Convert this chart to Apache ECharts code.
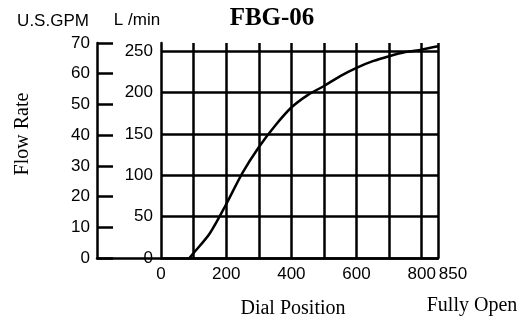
<!DOCTYPE html>
<html>
<head>
<meta charset="utf-8">
<script src="https://cdn.jsdelivr.net/npm/echarts@6/dist/echarts.min.js"></script>
<style>html,body{margin:0;padding:0;background:#fff;}#c{width:530px;height:320px;}</style>
</head>
<body>
<div id="c"></div>
<script>
// Data
const chartTitle = 'FBG-06';
const dialPosition = [87, 100, 150, 200, 250, 300, 350, 400, 450, 500, 550, 600, 650, 700, 750, 800, 850];
const flowLpm = [0, 6, 30, 65, 103, 134, 160, 182, 197, 208, 220, 230, 238, 244, 249, 252, 256];
const xTickLabels = [0, 200, 400, 600, 800, 850];
const lpmTickLabels = [0, 50, 100, 150, 200, 250];
const gpmTickLabels = [0, 10, 20, 30, 40, 50, 60, 70];

const xMax = 850, lpmMax = 260, gpmMax = 70;
const black = '#000';
const sans = 'Liberation Sans, Arial, sans-serif';
const serif = 'Liberation Serif, Times New Roman, serif';

const chart = echarts.init(document.getElementById('c'), null, {renderer: 'canvas'});
chart.setOption({
  animation: false,
  backgroundColor: '#fff',
  title: {
    text: chartTitle, left: 267, top: 1, textAlign: 'center',
    textStyle: {fontFamily: serif, fontWeight: 'bold', fontSize: 25, color: black}
  },
  grid: [
    {left: 161, right: 92, top: 43, bottom: 62},
    {left: 97, right: 92, top: 43, bottom: 62}
  ],
  xAxis: [
    {
      type: 'value', gridIndex: 0, min: 0, max: xMax, interval: 100,
      axisLine: {show: true, lineStyle: {color: black, width: 2.5}},
      axisTick: {show: false},
      splitLine: {show: true, showMinLine: false, showMaxLine: true, lineStyle: {color: black, width: 2.5}},
      axisLabel: {
        show: true, margin: 8, color: black, fontFamily: sans, fontSize: 17,
        showMinLabel: true, showMaxLabel: true, hideOverlap: false,
        formatter: function (v) {
          if (xTickLabels.indexOf(v) < 0) return '';
          return v === xMax ? '{s|' + v + '}' : String(v);
        },
        rich: {s: {fontFamily: sans, fontSize: 17, color: black, padding: [0, 0, 0, 30]}}
      }
    },
    {
      type: 'value', gridIndex: 1, min: 0, max: 1,
      axisLine: {show: true, lineStyle: {color: black, width: 2.5}},
      axisTick: {show: false}, axisLabel: {show: false}, splitLine: {show: false}
    }
  ],
  yAxis: [
    {
      type: 'value', gridIndex: 0, min: 0, max: lpmMax, interval: 50,
      axisLine: {show: true, lineStyle: {color: black, width: 2.5}},
      axisTick: {show: false},
      splitLine: {show: true, showMinLine: false, showMaxLine: false, lineStyle: {color: black, width: 2.5}},
      axisLabel: {
        margin: 8, color: black, fontFamily: sans, fontSize: 17, showMaxLabel: false,
        formatter: function (v) { return lpmTickLabels.indexOf(v) >= 0 ? String(v) : ''; }
      }
    },
    {
      type: 'value', gridIndex: 1, min: 0, max: gpmMax, interval: 10,
      axisLine: {show: true, lineStyle: {color: black, width: 2.5}},
      axisTick: {show: true, inside: true, length: 16, lineStyle: {color: black, width: 2.5}},
      splitLine: {show: false},
      axisLabel: {
        margin: 7, color: black, fontFamily: sans, fontSize: 17,
        formatter: function (v) { return gpmTickLabels.indexOf(v) >= 0 ? String(v) : ''; }
      }
    }
  ],
  series: [{
    type: 'line', xAxisIndex: 0, yAxisIndex: 0,
    data: dialPosition.map(function (x, i) { return [x, flowLpm[i]]; }),
    smooth: 0.3, showSymbol: false, symbol: 'none',
    lineStyle: {color: black, width: 2.5}
  }],
  graphic: [
    {type: 'text', x: 53, y: 21, style: {text: 'U.S.GPM', fontFamily: sans, fontSize: 17, fill: black, textAlign: 'center', textVerticalAlign: 'middle'}},
    {type: 'text', x: 137, y: 20, style: {text: 'L /min', fontFamily: sans, fontSize: 17, fill: black, textAlign: 'center', textVerticalAlign: 'middle'}},
    {type: 'text', x: 23, y: 134, rotation: Math.PI / 2, style: {text: 'Flow Rate', fontFamily: serif, fontSize: 20, fill: black, textAlign: 'center', textVerticalAlign: 'middle'}},
    {type: 'text', x: 293, y: 309, style: {text: 'Dial Position', fontFamily: serif, fontSize: 20, fill: black, textAlign: 'center', textVerticalAlign: 'middle'}},
    {type: 'text', x: 472, y: 306, style: {text: 'Fully Open', fontFamily: serif, fontSize: 20, fill: black, textAlign: 'center', textVerticalAlign: 'middle'}}
  ]
});
</script>
</body>
</html>
